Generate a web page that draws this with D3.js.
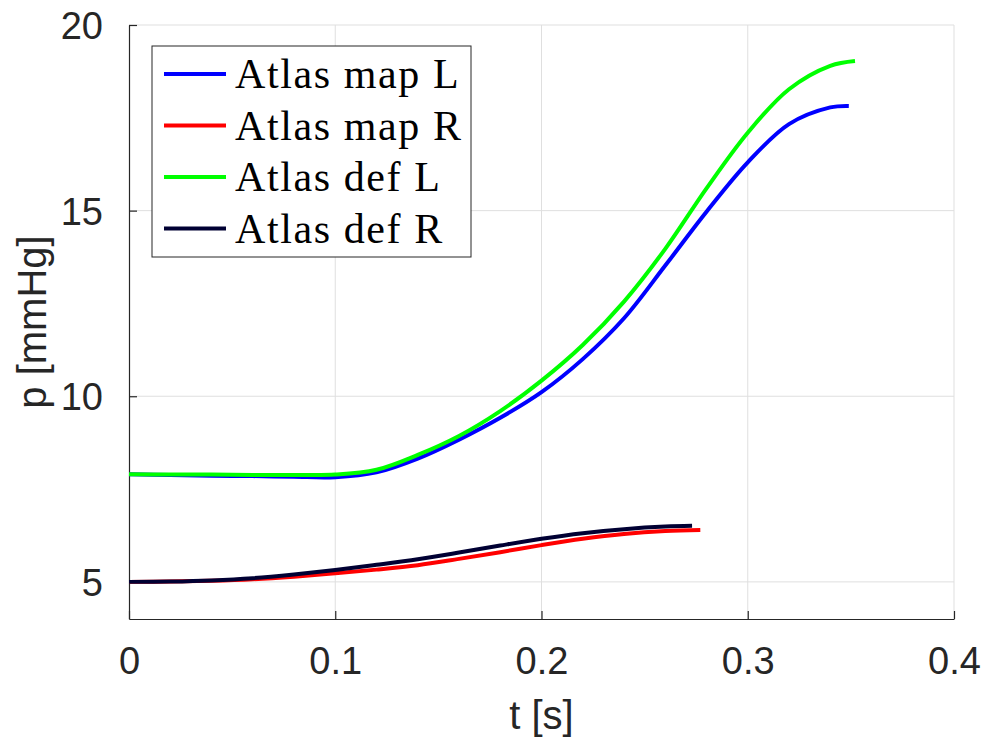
<!DOCTYPE html>
<html>
<head>
<meta charset="utf-8">
<script src="https://cdn.jsdelivr.net/npm/d3@7"></script>
<style>
  body { margin: 0; background: #fff; }
  svg { display: block; }
</style>
</head>
<body>
<svg id="chart" width="988" height="742"></svg>
<script>
// values: [t (s), p (mmHg)]
var mapL = [[0, 7.90], [0.02, 7.88], [0.04, 7.86], [0.06, 7.85], [0.08, 7.83], [0.10, 7.82],
    [0.12, 7.95], [0.14, 8.32], [0.16, 8.83], [0.18, 9.42], [0.20, 10.11], [0.22, 11.0],
    [0.24, 12.1], [0.26, 13.52], [0.28, 14.97], [0.30, 16.3], [0.32, 17.33], [0.34, 17.78], [0.349, 17.82]];
var mapR = [[0, 5.0], [0.02, 5.01], [0.04, 5.03], [0.06, 5.07], [0.08, 5.14], [0.10, 5.23],
    [0.12, 5.33], [0.14, 5.45], [0.16, 5.62], [0.18, 5.80], [0.20, 5.99], [0.22, 6.16],
    [0.24, 6.29], [0.26, 6.37], [0.277, 6.40]];
var defL = [[0, 7.90], [0.02, 7.89], [0.04, 7.89], [0.06, 7.88], [0.08, 7.88], [0.10, 7.89],
    [0.12, 8.02], [0.14, 8.42], [0.16, 8.93], [0.18, 9.60], [0.20, 10.42], [0.22, 11.38],
    [0.24, 12.55], [0.26, 13.97], [0.28, 15.6], [0.30, 17.1], [0.32, 18.27], [0.34, 18.9], [0.352, 19.03]];
var defR = [[0, 5.0], [0.02, 5.01], [0.04, 5.04], [0.06, 5.10], [0.08, 5.20], [0.10, 5.32],
    [0.12, 5.46], [0.14, 5.61], [0.16, 5.79], [0.18, 5.98], [0.20, 6.16], [0.22, 6.31],
    [0.24, 6.42], [0.26, 6.49], [0.273, 6.51]];

var seriesNames = ['Atlas map L', 'Atlas map R', 'Atlas def L', 'Atlas def R'];
var seriesColors = ['#0000ff', '#ff0000', '#00ff00', '#000033'];
var xTicks = [0, 0.1, 0.2, 0.3, 0.4];
var yTicks = [5, 10, 15, 20];

var series = [mapL, mapR, defL, defR];

var svg = d3.select('#chart');
// plot box (note: "top" is reserved on window, so use other names)
var mLeft = 129, mRight = 954, mTop = 25, mBottom = 619;
var axisColor = '#262626';
var sansFont = '"Liberation Sans", Arial, sans-serif';

var x = d3.scaleLinear().domain([0, 0.4]).range([mLeft, mRight]);
var y = d3.scaleLinear().domain([4, 20]).range([mBottom, mTop]);

// grid
svg.append('g').selectAll('line').data(xTicks.slice(1)).enter().append('line')
    .attr('x1', function(d) { return x(d); }).attr('x2', function(d) { return x(d); })
    .attr('y1', mTop).attr('y2', mBottom)
    .attr('stroke', '#dfdfdf').attr('stroke-width', 1);
svg.append('g').selectAll('line').data(yTicks).enter().append('line')
    .attr('x1', mLeft).attr('x2', mRight)
    .attr('y1', function(d) { return y(d); }).attr('y2', function(d) { return y(d); })
    .attr('stroke', '#dfdfdf').attr('stroke-width', 1);

// axes (ticks pointing inward, like matlab)
var xAxis = d3.axisBottom(x).tickValues(xTicks).tickSizeInner(-8).tickSizeOuter(0)
    .tickFormat(function(d) { return d === 0 ? '0' : d3.format('.1f')(d); });
var yAxis = d3.axisLeft(y).tickValues(yTicks).tickSizeInner(-8).tickSizeOuter(0);

var gx = svg.append('g').attr('transform', 'translate(0,' + mBottom + ')').call(xAxis);
var gy = svg.append('g').attr('transform', 'translate(' + mLeft + ',0)').call(yAxis);

[gx, gy].forEach(function(g) {
    g.select('.domain').attr('stroke', axisColor).attr('stroke-width', 1.2);
    g.selectAll('.tick line').attr('stroke', axisColor).attr('stroke-width', 1.2);
    g.selectAll('.tick text')
        .attr('fill', axisColor)
        .style('font-family', sansFont)
        .style('font-size', '38px');
});
gx.selectAll('.tick text').attr('y', 55).attr('dy', 0);
gy.selectAll('.tick text').attr('x', -26).attr('dy', '0.36em');

// axis labels
svg.append('text')
    .attr('x', (mLeft + mRight) / 2).attr('y', 729)
    .attr('text-anchor', 'middle')
    .attr('fill', axisColor)
    .style('font-family', sansFont)
    .style('font-size', '40px')
    .text('t [s]');
svg.append('text')
    .attr('transform', 'translate(46,' + (mTop + mBottom) / 2 + ') rotate(-90)')
    .attr('text-anchor', 'middle')
    .attr('fill', axisColor)
    .style('font-family', sansFont)
    .style('font-size', '40px')
    .text('p [mmHg]');

// curves
var line = d3.line()
    .x(function(d) { return x(d[0]); })
    .y(function(d) { return y(d[1]); })
    .curve(d3.curveCatmullRom.alpha(0.5));

svg.append('g').selectAll('path').data(series).enter().append('path')
    .attr('d', line)
    .attr('fill', 'none')
    .attr('stroke', function(d, i) { return seriesColors[i]; })
    .attr('stroke-width', 4);

// legend
var lg = svg.append('g').attr('transform', 'translate(152,46)');
lg.append('rect')
    .attr('width', 319).attr('height', 211)
    .attr('fill', '#fff').attr('stroke', axisColor).attr('stroke-width', 1);

var rows = lg.selectAll('g.row').data(seriesNames).enter().append('g')
    .attr('class', 'row')
    .attr('transform', function(d, i) { return 'translate(0,' + (28 + i * 51.5) + ')'; });
rows.append('line')
    .attr('x1', 12).attr('x2', 74)
    .attr('stroke', function(d, i) { return seriesColors[i]; })
    .attr('stroke-width', 4);
rows.append('text')
    .attr('x', 83).attr('y', 14)
    .attr('fill', '#000')
    .style('font-family', '"Liberation Serif", "Times New Roman", serif')
    .style('font-size', '42px')
    .style('letter-spacing', '1.6px')
    .text(function(d) { return d; });
</script>
</body>
</html>
